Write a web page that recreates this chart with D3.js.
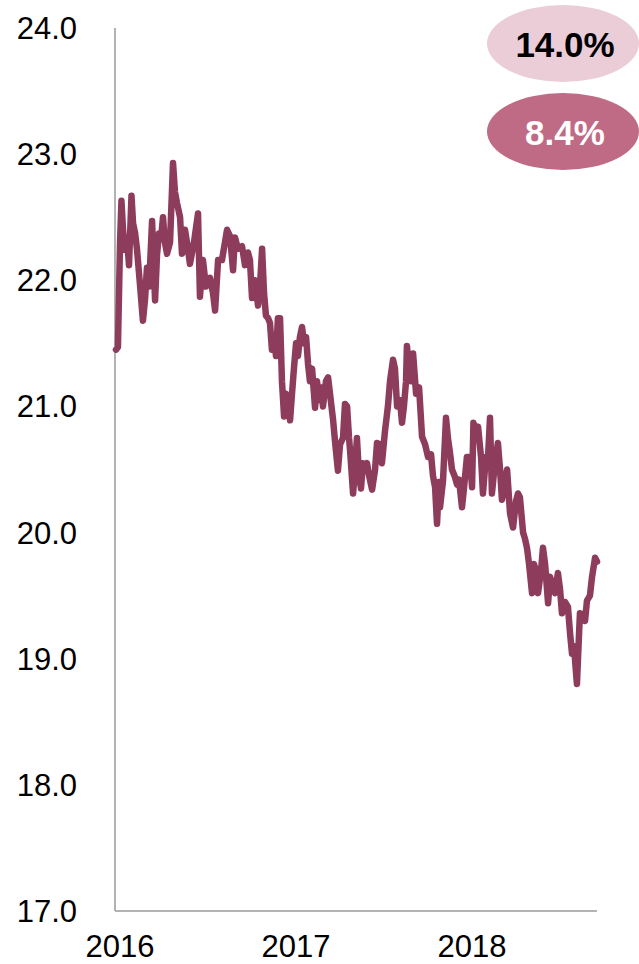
<!DOCTYPE html>
<html>
<head>
<meta charset="utf-8">
<script src="https://cdn.jsdelivr.net/npm/d3@7"></script>
<style>
  html, body { margin: 0; padding: 0; background: #ffffff; }
  svg { display: block; font-family: "Liberation Sans", Arial, sans-serif; }
</style>
</head>
<body>
<svg id="chart" width="639" height="964"></svg>
<script>
// Time stamps as decimal years
const years = [
  2016.000, 2016.011, 2016.023, 2016.031, 2016.040, 2016.051, 2016.063, 2016.074, 2016.088, 2016.097,
  2016.108, 2016.119, 2016.136, 2016.153, 2016.165, 2016.176, 2016.188, 2016.205, 2016.222, 2016.233,
  2016.244, 2016.256, 2016.267, 2016.278, 2016.290, 2016.307, 2016.324, 2016.335, 2016.347, 2016.364,
  2016.375, 2016.392, 2016.409, 2016.420, 2016.443, 2016.466, 2016.477, 2016.494, 2016.511, 2016.534,
  2016.551, 2016.563, 2016.580, 2016.602, 2016.619, 2016.631, 2016.648, 2016.665, 2016.676, 2016.693,
  2016.716, 2016.733, 2016.750, 2016.761, 2016.773, 2016.790, 2016.807, 2016.818, 2016.830, 2016.841,
  2016.852, 2016.864, 2016.875, 2016.886, 2016.898, 2016.909, 2016.920, 2016.932, 2016.943, 2016.955,
  2016.966, 2016.977, 2016.989, 2017.000, 2017.011, 2017.023, 2017.034, 2017.045, 2017.057, 2017.068,
  2017.080, 2017.091, 2017.102, 2017.114, 2017.125, 2017.131, 2017.142, 2017.153, 2017.165, 2017.176,
  2017.193, 2017.205, 2017.216, 2017.233, 2017.244, 2017.261, 2017.273, 2017.290, 2017.301, 2017.313,
  2017.324, 2017.330, 2017.347, 2017.358, 2017.369, 2017.381, 2017.392, 2017.403, 2017.415, 2017.426,
  2017.438, 2017.455, 2017.472, 2017.483, 2017.500, 2017.511, 2017.528, 2017.545, 2017.557, 2017.574,
  2017.585, 2017.597, 2017.614, 2017.625, 2017.636, 2017.648, 2017.653, 2017.665, 2017.676, 2017.688,
  2017.705, 2017.722, 2017.739, 2017.756, 2017.773, 2017.790, 2017.801, 2017.813, 2017.824, 2017.835,
  2017.841, 2017.858, 2017.875, 2017.886, 2017.898, 2017.909, 2017.926, 2017.938, 2017.949, 2017.966,
  2017.977, 2017.994, 2018.011, 2018.023, 2018.031, 2018.045, 2018.057, 2018.074, 2018.085, 2018.102,
  2018.114, 2018.125, 2018.136, 2018.153, 2018.170, 2018.182, 2018.193, 2018.210, 2018.222, 2018.239,
  2018.256, 2018.273, 2018.284, 2018.295, 2018.313, 2018.324, 2018.335, 2018.347, 2018.364, 2018.375,
  2018.386, 2018.398, 2018.415, 2018.426, 2018.438, 2018.455, 2018.466, 2018.477, 2018.494, 2018.511,
  2018.523, 2018.534, 2018.551, 2018.568, 2018.580, 2018.591, 2018.602, 2018.619, 2018.625, 2018.636,
  2018.653, 2018.665, 2018.676, 2018.693, 2018.705, 2018.722, 2018.733
];

// Series values
const rates = [
  21.45, 21.47, 22.30, 22.63, 22.40, 22.24, 22.32, 22.12, 22.67, 22.45,
  22.38, 22.25, 21.97, 21.68, 21.85, 22.10, 21.95, 22.47, 21.84, 22.20,
  22.37, 22.33, 22.50, 22.30, 22.21, 22.30, 22.93, 22.70, 22.61, 22.50,
  22.21, 22.40, 22.25, 22.13, 22.30, 22.53, 21.87, 22.16, 21.95, 22.02,
  21.90, 21.76, 22.16, 22.16, 22.30, 22.40, 22.35, 22.08, 22.34, 22.25,
  22.27, 22.12, 22.22, 22.16, 21.86, 22.00, 21.80, 21.95, 22.25, 21.90,
  21.72, 21.70, 21.66, 21.45, 21.55, 21.40, 21.70, 21.70, 21.20, 20.92,
  21.10, 21.05, 20.89, 21.10, 21.30, 21.50, 21.40, 21.55, 21.63, 21.50,
  21.55, 21.34, 21.20, 21.30, 21.10, 20.99, 21.20, 21.05, 21.15, 21.00,
  21.20, 21.23, 21.10, 20.90, 20.73, 20.49, 20.70, 20.75, 21.02, 21.00,
  20.75, 20.65, 20.31, 20.50, 20.75, 20.45, 20.35, 20.55, 20.50, 20.55,
  20.45, 20.34, 20.50, 20.71, 20.70, 20.55, 20.80, 21.00, 21.20, 21.37,
  21.30, 21.00, 21.05, 20.87, 21.00, 21.20, 21.48, 21.30, 21.20, 21.42,
  21.10, 21.15, 20.76, 20.70, 20.60, 20.62, 20.45, 20.36, 20.07, 20.40,
  20.20, 20.41, 20.91, 20.75, 20.63, 20.50, 20.44, 20.38, 20.42, 20.20,
  20.35, 20.60, 20.60, 20.36, 20.87, 20.75, 20.84, 20.60, 20.31, 20.60,
  20.60, 20.91, 20.31, 20.55, 20.71, 20.50, 20.26, 20.40, 20.50, 20.15,
  20.04, 20.25, 20.31, 20.28, 20.00, 19.95, 19.88, 19.75, 19.52, 19.75,
  19.70, 19.52, 19.70, 19.88, 19.75, 19.44, 19.65, 19.60, 19.52, 19.68,
  19.55, 19.36, 19.45, 19.41, 19.20, 19.04, 19.10, 18.80, 19.00, 19.36,
  19.35, 19.30, 19.46, 19.50, 19.65, 19.80, 19.77
];

// Axis ticks
const yTicks = [17, 18, 19, 20, 21, 22, 23, 24];
const xTicks = [2016, 2017, 2018];

// Badges in the top-right corner
const badgeLabels = ["14.0%", "8.4%"];
const badgeFills = ["#ebcdd8", "#c06b85"];
const badgeText = ["#000000", "#ffffff"];

const svg = d3.select("#chart");
const plot = { left: 115, right: 597, top: 28, bottom: 911 };

const x = d3.scaleLinear().domain([2016, 2018.733]).range([116, plot.right]);
const y = d3.scaleLinear().domain([17, 24]).range([plot.bottom, plot.top]);

// Axis lines
svg.append("line")
  .attr("x1", plot.left).attr("x2", plot.left)
  .attr("y1", plot.top).attr("y2", plot.bottom)
  .attr("stroke", "#9a9a9a").attr("stroke-width", 1.5);
svg.append("line")
  .attr("x1", plot.left).attr("x2", plot.right)
  .attr("y1", plot.bottom).attr("y2", plot.bottom)
  .attr("stroke", "#9a9a9a").attr("stroke-width", 1.5);

// Y tick labels
svg.append("g").selectAll("text")
  .data(yTicks)
  .join("text")
  .attr("x", 77)
  .attr("y", d => y(d) + 11)
  .attr("text-anchor", "end")
  .attr("font-size", 31)
  .attr("fill", "#000")
  .text(d => d.toFixed(1));

// X tick labels
svg.append("g").selectAll("text")
  .data(xTicks)
  .join("text")
  .attr("x", d => x(d) + 4)
  .attr("y", 957)
  .attr("text-anchor", "middle")
  .attr("font-size", 31)
  .attr("fill", "#000")
  .text(d => d);

// Series line
const points = years.map((t, i) => [t, rates[i]]);
const line = d3.line().x(d => x(d[0])).y(d => y(d[1]));
svg.append("path")
  .datum(points)
  .attr("d", line)
  .attr("fill", "none")
  .attr("stroke", "#8d3c5b")
  .attr("stroke-width", 6.5)
  .attr("stroke-linejoin", "round")
  .attr("stroke-linecap", "round");

// Badges
const badges = svg.append("g").selectAll("g")
  .data(badgeLabels)
  .join("g")
  .attr("transform", (d, i) => `translate(563, ${43.5 + i * 88})`);
badges.append("ellipse")
  .attr("rx", 76).attr("ry", 38.5)
  .attr("fill", (d, i) => badgeFills[i]);
badges.append("text")
  .attr("x", 2)
  .attr("y", 13)
  .attr("text-anchor", "middle")
  .attr("font-size", 35)
  .attr("font-weight", "bold")
  .attr("fill", (d, i) => badgeText[i])
  .text(d => d);
</script>
</body>
</html>
